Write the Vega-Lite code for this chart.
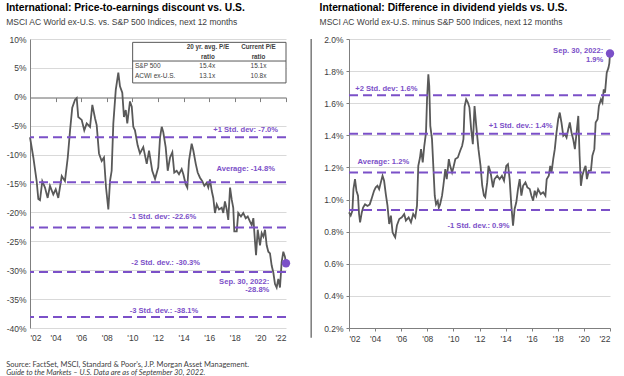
{
  "$schema": "https://vega.github.io/schema/vega-lite/v6.json",
  "background": "white",
  "padding": {"left": 6, "right": 2, "top": 3, "bottom": 1},
  "config": {"view": {"stroke": null}, "font": "Liberation Sans", "axis": {"labelOverlap": false, "tickCount": 30}},
  "title": {
    "text": "Source: FactSet, MSCI, Standard & Poor's, J.P. Morgan Asset Management.",
    "subtitle": "Guide to the Markets – U.S. Data are as of September 30, 2022.",
    "orient": "bottom", "anchor": "start", "frame": "bounds",
    "font": "Lato", "fontSize": 7.5, "fontWeight": "normal", "color": "#404040",
    "subtitleFont": "Lato", "subtitleFontSize": 7.5, "subtitleFontStyle": "italic", "subtitleColor": "#404040",
    "subtitlePadding": 1, "offset": 18
  },
  "datasets": {
    "pe": [
      {"year": 2002.00, "pe": -7.0}, {"year": 2002.26, "pe": -10.5}, {"year": 2002.52, "pe": -14.6}, {"year": 2002.65, "pe": -17.7},
      {"year": 2002.78, "pe": -17.9}, {"year": 2002.96, "pe": -14.6}, {"year": 2003.17, "pe": -15.7}, {"year": 2003.38, "pe": -17.5},
      {"year": 2003.56, "pe": -15.4}, {"year": 2003.82, "pe": -16.9}, {"year": 2004.01, "pe": -16.0}, {"year": 2004.21, "pe": -17.5},
      {"year": 2004.48, "pe": -13.7}, {"year": 2004.73, "pe": -14.6}, {"year": 2004.95, "pe": -10.5}, {"year": 2005.13, "pe": -5.8},
      {"year": 2005.30, "pe": -1.9}, {"year": 2005.52, "pe": -0.5}, {"year": 2005.65, "pe": -0.2}, {"year": 2005.77, "pe": -3.5},
      {"year": 2006.04, "pe": -4.0}, {"year": 2006.24, "pe": -5.8}, {"year": 2006.43, "pe": -4.6}, {"year": 2006.69, "pe": -5.2},
      {"year": 2006.87, "pe": -1.4}, {"year": 2007.08, "pe": -3.7}, {"year": 2007.21, "pe": -4.9}, {"year": 2007.39, "pe": -9.8},
      {"year": 2007.60, "pe": -11.1}, {"year": 2007.78, "pe": -10.5}, {"year": 2007.94, "pe": -15.7}, {"year": 2008.12, "pe": -19.5},
      {"year": 2008.25, "pe": -14.6}, {"year": 2008.38, "pe": -12.8}, {"year": 2008.51, "pe": -4.6}, {"year": 2008.70, "pe": 1.2},
      {"year": 2008.90, "pe": 4.2}, {"year": 2009.03, "pe": 1.8}, {"year": 2009.21, "pe": 0.7}, {"year": 2009.34, "pe": -3.5},
      {"year": 2009.48, "pe": -2.3}, {"year": 2009.60, "pe": -4.6}, {"year": 2009.81, "pe": -0.8}, {"year": 2009.95, "pe": -1.7},
      {"year": 2010.07, "pe": -5.2}, {"year": 2010.20, "pe": -5.8}, {"year": 2010.41, "pe": -8.4}, {"year": 2010.59, "pe": -9.8},
      {"year": 2010.85, "pe": -8.7}, {"year": 2011.12, "pe": -11.6}, {"year": 2011.30, "pe": -9.3}, {"year": 2011.55, "pe": -12.8},
      {"year": 2011.77, "pe": -14.2}, {"year": 2012.02, "pe": -12.2}, {"year": 2012.16, "pe": -7.0}, {"year": 2012.29, "pe": -5.2},
      {"year": 2012.41, "pe": -6.1}, {"year": 2012.60, "pe": -8.7}, {"year": 2012.76, "pe": -12.8}, {"year": 2012.94, "pe": -10.5},
      {"year": 2013.12, "pe": -9.6}, {"year": 2013.27, "pe": -13.1}, {"year": 2013.46, "pe": -12.8}, {"year": 2013.64, "pe": -13.4},
      {"year": 2013.85, "pe": -12.5}, {"year": 2013.98, "pe": -13.4}, {"year": 2014.16, "pe": -15.1}, {"year": 2014.29, "pe": -15.7},
      {"year": 2014.42, "pe": -11.1}, {"year": 2014.63, "pe": -8.1}, {"year": 2014.76, "pe": -9.3}, {"year": 2014.95, "pe": -11.6},
      {"year": 2015.10, "pe": -13.1}, {"year": 2015.28, "pe": -14.0}, {"year": 2015.46, "pe": -14.6}, {"year": 2015.62, "pe": -15.4},
      {"year": 2015.80, "pe": -14.9}, {"year": 2015.93, "pe": -15.7}, {"year": 2016.06, "pe": -14.3}, {"year": 2016.20, "pe": -16.3},
      {"year": 2016.32, "pe": -17.5}, {"year": 2016.45, "pe": -20.1}, {"year": 2016.59, "pe": -18.6}, {"year": 2016.77, "pe": -19.5},
      {"year": 2016.98, "pe": -19.2}, {"year": 2017.10, "pe": -20.1}, {"year": 2017.23, "pe": -18.1}, {"year": 2017.37, "pe": -19.5},
      {"year": 2017.49, "pe": -21.3}, {"year": 2017.63, "pe": -15.7}, {"year": 2017.76, "pe": -17.8}, {"year": 2017.88, "pe": -19.2},
      {"year": 2017.96, "pe": -23.3}, {"year": 2018.15, "pe": -23.3}, {"year": 2018.27, "pe": -20.1}, {"year": 2018.48, "pe": -20.7},
      {"year": 2018.66, "pe": -20.1}, {"year": 2018.85, "pe": -21.0}, {"year": 2019.01, "pe": -20.7}, {"year": 2019.19, "pe": -21.6},
      {"year": 2019.32, "pe": -22.2}, {"year": 2019.45, "pe": -21.0}, {"year": 2019.58, "pe": -25.1}, {"year": 2019.66, "pe": -27.4},
      {"year": 2019.79, "pe": -23.0}, {"year": 2019.97, "pe": -25.7}, {"year": 2020.10, "pe": -23.6}, {"year": 2020.23, "pe": -24.2},
      {"year": 2020.36, "pe": -23.0}, {"year": 2020.49, "pe": -25.7}, {"year": 2020.62, "pe": -26.8}, {"year": 2020.75, "pe": -27.1},
      {"year": 2020.88, "pe": -29.2}, {"year": 2021.01, "pe": -30.4}, {"year": 2021.14, "pe": -32.4}, {"year": 2021.27, "pe": -33.0},
      {"year": 2021.40, "pe": -31.5}, {"year": 2021.53, "pe": -33.0}, {"year": 2021.66, "pe": -28.6}, {"year": 2021.79, "pe": -26.8},
      {"year": 2021.92, "pe": -27.7}, {"year": 2022.00, "pe": -28.8}
    ],
    "dy": [
      {"year": 2002.00, "dy": 0.92}, {"year": 2002.13, "dy": 0.90}, {"year": 2002.26, "dy": 0.93}, {"year": 2002.34, "dy": 1.065},
      {"year": 2002.46, "dy": 1.127}, {"year": 2002.57, "dy": 1.055}, {"year": 2002.69, "dy": 1.024}, {"year": 2002.77, "dy": 0.91},
      {"year": 2002.85, "dy": 0.858}, {"year": 2002.98, "dy": 0.92}, {"year": 2003.08, "dy": 0.95}, {"year": 2003.23, "dy": 0.97},
      {"year": 2003.42, "dy": 0.96}, {"year": 2003.59, "dy": 0.97}, {"year": 2003.75, "dy": 1.01}, {"year": 2003.92, "dy": 1.055},
      {"year": 2004.05, "dy": 1.076}, {"year": 2004.18, "dy": 1.086}, {"year": 2004.31, "dy": 1.065}, {"year": 2004.44, "dy": 1.107},
      {"year": 2004.57, "dy": 1.148}, {"year": 2004.69, "dy": 1.117}, {"year": 2004.82, "dy": 1.034}, {"year": 2004.95, "dy": 0.962},
      {"year": 2005.08, "dy": 0.848}, {"year": 2005.21, "dy": 0.90}, {"year": 2005.34, "dy": 0.796}, {"year": 2005.46, "dy": 0.776},
      {"year": 2005.54, "dy": 0.765}, {"year": 2005.67, "dy": 0.838}, {"year": 2005.85, "dy": 0.879}, {"year": 2006.05, "dy": 0.889},
      {"year": 2006.23, "dy": 0.91}, {"year": 2006.36, "dy": 0.869}, {"year": 2006.57, "dy": 0.889}, {"year": 2006.75, "dy": 0.858},
      {"year": 2006.92, "dy": 0.91}, {"year": 2007.08, "dy": 0.889}, {"year": 2007.21, "dy": 0.962}, {"year": 2007.31, "dy": 1.21},
      {"year": 2007.44, "dy": 1.262}, {"year": 2007.52, "dy": 1.314}, {"year": 2007.65, "dy": 1.231}, {"year": 2007.77, "dy": 1.335},
      {"year": 2007.90, "dy": 1.417}, {"year": 2007.98, "dy": 1.624}, {"year": 2008.08, "dy": 1.78}, {"year": 2008.15, "dy": 1.707},
      {"year": 2008.23, "dy": 1.459}, {"year": 2008.36, "dy": 1.376}, {"year": 2008.46, "dy": 1.21}, {"year": 2008.57, "dy": 1.024},
      {"year": 2008.67, "dy": 0.97}, {"year": 2008.80, "dy": 0.99}, {"year": 2008.88, "dy": 0.95}, {"year": 2008.98, "dy": 0.97},
      {"year": 2009.13, "dy": 1.024}, {"year": 2009.23, "dy": 1.086}, {"year": 2009.38, "dy": 1.19}, {"year": 2009.49, "dy": 1.127},
      {"year": 2009.65, "dy": 1.252}, {"year": 2009.75, "dy": 1.21}, {"year": 2009.90, "dy": 1.169}, {"year": 2010.00, "dy": 1.2},
      {"year": 2010.15, "dy": 1.252}, {"year": 2010.34, "dy": 1.262}, {"year": 2010.52, "dy": 1.304}, {"year": 2010.67, "dy": 1.335},
      {"year": 2010.77, "dy": 1.376}, {"year": 2010.86, "dy": 1.58}, {"year": 2010.98, "dy": 1.624}, {"year": 2011.11, "dy": 1.604},
      {"year": 2011.23, "dy": 1.573}, {"year": 2011.36, "dy": 1.438}, {"year": 2011.49, "dy": 1.345}, {"year": 2011.62, "dy": 1.583},
      {"year": 2011.75, "dy": 1.459}, {"year": 2011.92, "dy": 1.314}, {"year": 2012.08, "dy": 1.21}, {"year": 2012.21, "dy": 1.086},
      {"year": 2012.34, "dy": 1.024}, {"year": 2012.44, "dy": 1.014}, {"year": 2012.59, "dy": 1.107}, {"year": 2012.69, "dy": 1.21},
      {"year": 2012.85, "dy": 1.169}, {"year": 2013.03, "dy": 1.076}, {"year": 2013.15, "dy": 1.127}, {"year": 2013.36, "dy": 1.148},
      {"year": 2013.54, "dy": 1.127}, {"year": 2013.72, "dy": 1.148}, {"year": 2013.88, "dy": 1.117}, {"year": 2014.05, "dy": 1.21},
      {"year": 2014.18, "dy": 1.22}, {"year": 2014.31, "dy": 1.127}, {"year": 2014.44, "dy": 0.962}, {"year": 2014.57, "dy": 0.838},
      {"year": 2014.69, "dy": 0.941}, {"year": 2014.82, "dy": 0.983}, {"year": 2014.95, "dy": 1.065}, {"year": 2015.08, "dy": 1.127},
      {"year": 2015.21, "dy": 1.024}, {"year": 2015.34, "dy": 1.086}, {"year": 2015.52, "dy": 1.107}, {"year": 2015.67, "dy": 1.076},
      {"year": 2015.85, "dy": 1.065}, {"year": 2015.98, "dy": 1.024}, {"year": 2016.11, "dy": 0.993}, {"year": 2016.23, "dy": 1.055},
      {"year": 2016.36, "dy": 1.024}, {"year": 2016.49, "dy": 1.065}, {"year": 2016.69, "dy": 1.034}, {"year": 2016.88, "dy": 1.045},
      {"year": 2017.05, "dy": 1.024}, {"year": 2017.15, "dy": 1.127}, {"year": 2017.31, "dy": 1.148}, {"year": 2017.42, "dy": 1.21},
      {"year": 2017.52, "dy": 1.169}, {"year": 2017.65, "dy": 1.252}, {"year": 2017.77, "dy": 1.314}, {"year": 2017.90, "dy": 1.417},
      {"year": 2018.03, "dy": 1.5}, {"year": 2018.15, "dy": 1.542}, {"year": 2018.28, "dy": 1.48}, {"year": 2018.42, "dy": 1.397},
      {"year": 2018.54, "dy": 1.407}, {"year": 2018.67, "dy": 1.386}, {"year": 2018.80, "dy": 1.438}, {"year": 2018.92, "dy": 1.48},
      {"year": 2019.05, "dy": 1.417}, {"year": 2019.18, "dy": 1.376}, {"year": 2019.31, "dy": 1.314}, {"year": 2019.44, "dy": 1.417},
      {"year": 2019.57, "dy": 1.521}, {"year": 2019.67, "dy": 1.273}, {"year": 2019.77, "dy": 1.086}, {"year": 2019.88, "dy": 1.148},
      {"year": 2020.03, "dy": 1.19}, {"year": 2020.13, "dy": 1.21}, {"year": 2020.23, "dy": 1.127}, {"year": 2020.38, "dy": 1.18},
      {"year": 2020.54, "dy": 1.18}, {"year": 2020.65, "dy": 1.273}, {"year": 2020.80, "dy": 1.314}, {"year": 2020.90, "dy": 1.48},
      {"year": 2021.05, "dy": 1.5}, {"year": 2021.15, "dy": 1.583}, {"year": 2021.31, "dy": 1.624}, {"year": 2021.42, "dy": 1.604},
      {"year": 2021.52, "dy": 1.686}, {"year": 2021.62, "dy": 1.666}, {"year": 2021.75, "dy": 1.79}, {"year": 2021.88, "dy": 1.82},
      {"year": 2021.95, "dy": 1.85}, {"year": 2022.00, "dy": 1.91}
    ]
  },
  "spacing": 19,
  "hconcat": [
    {
      "width": 256,
      "height": 289,
      "title": {
        "text": "International: Price-to-earnings discount vs. U.S.",
        "subtitle": "MSCI AC World ex-U.S. vs. S&P 500 Indices, next 12 months",
        "anchor": "start", "frame": "bounds",
        "font": "Liberation Sans", "fontSize": 10.3, "fontWeight": "bold", "color": "#000000",
        "subtitleFont": "Liberation Sans", "subtitleFontSize": 8.5, "subtitleColor": "#404040",
        "subtitlePadding": 4, "offset": 9
      },
      "resolve": {"scale": {"x": "independent"}, "axis": {"x": "independent"}},
      "layer": [
        {
          "layer": [
            {
              "data": {"name": "pe"},
              "mark": {"type": "line", "color": "#595959", "strokeWidth": 1.8},
              "encoding": {
                "x": {"field": "year", "type": "quantitative",
                  "scale": {"domain": [2002, 2022], "nice": false, "zero": false},
                  "axis": {"orient": "bottom", "values": [2002, 2004, 2006, 2008, 2010, 2012, 2014, 2016, 2018, 2020, 2022], "tickCount": 30,
                    "labelExpr": "\"'\" + substring(toString(datum.value), 2, 4)",
                    "domain": false, "ticks": false, "grid": false, "labelPadding": 5, "labelOverlap": false,
                    "labelFontSize": 8.5, "labelColor": "#404040", "title": null}},
                "y": {"field": "pe", "type": "quantitative",
                  "scale": {"domain": [-40, 10], "nice": false, "zero": false},
                  "axis": {"values": [-40, -35, -30, -25, -20, -15, -10, -5, 0, 5, 10], "tickCount": 30,
                    "labelExpr": "datum.value + '%'", "grid": true, "gridColor": "#d9d9d9", "labelOverlap": false,
                    "domain": true, "domainColor": "#7f7f7f", "ticks": false, "labelPadding": 4,
                    "labelFontSize": 8.5, "labelColor": "#404040", "title": null}}
              }
            },
            {
              "data": {"values": [{"v": -7.0}, {"v": -14.8}, {"v": -22.6}, {"v": -30.3}, {"v": -38.1}]},
              "mark": {"type": "rule", "color": "#7b50c8", "strokeWidth": 2, "strokeDash": [9, 5]},
              "encoding": {"y": {"field": "v", "type": "quantitative"}}
            },
            {
              "data": {"values": [
                {"year": 2018.85, "v": -5.8, "label": "+1 Std. dev: -7.0%"},
                {"year": 2018.85, "v": -12.5, "label": "Average: -14.8%"},
                {"year": 2012.37, "v": -20.8, "label": "-1 Std. dev: -22.6%"},
                {"year": 2012.6, "v": -28.7, "label": "-2 Std. dev.: -30.3%"},
                {"year": 2012.47, "v": -37.0, "label": "-3 Std. dev.: -38.1%"}
              ]},
              "mark": {"type": "text", "color": "#7b50c8", "fontSize": 7.6, "fontWeight": "bold", "align": "center", "baseline": "middle"},
              "encoding": {
                "x": {"field": "year", "type": "quantitative"},
                "y": {"field": "v", "type": "quantitative"},
                "text": {"field": "label"}
              }
            },
            {
              "data": {"values": [
                {"year": 2020.7, "v": -32.1, "label": "Sep. 30, 2022:"},
                {"year": 2020.7, "v": -33.4, "label": "-28.8%"}
              ]},
              "mark": {"type": "text", "color": "#7b50c8", "fontSize": 7.6, "fontWeight": "bold", "align": "right", "baseline": "middle"},
              "encoding": {
                "x": {"field": "year", "type": "quantitative"},
                "y": {"field": "v", "type": "quantitative"},
                "text": {"field": "label"}
              }
            },
            {
              "data": {"values": [{"year": 2022, "pe": -28.8}]},
              "mark": {"type": "point", "filled": true, "color": "#7b50c8", "size": 70, "opacity": 1},
              "encoding": {
                "x": {"field": "year", "type": "quantitative"},
                "y": {"field": "pe", "type": "quantitative"}
              }
            },
            {
              "data": {"values": [{"x1": 2010.02, "x2": 2022, "y1": 9.42, "y2": 2.4}]},
              "mark": {"type": "rect", "fill": "white", "stroke": "#595959", "strokeWidth": 1},
              "encoding": {
                "x": {"field": "x1", "type": "quantitative"}, "x2": {"field": "x2"},
                "y": {"field": "y1", "type": "quantitative"}, "y2": {"field": "y2"}
              }
            },
            {
              "data": {"values": [{"x1": 2010.02, "x2": 2022, "y": 6.19}]},
              "mark": {"type": "rule", "color": "#595959", "strokeWidth": 1},
              "encoding": {
                "x": {"field": "x1", "type": "quantitative"}, "x2": {"field": "x2"},
                "y": {"field": "y", "type": "quantitative"}
              }
            },
            {
              "data": {"values": [
                {"year": 2015.9, "v": 8.54, "label": "20 yr. avg. P/E"},
                {"year": 2015.9, "v": 6.96, "label": "ratio"},
                {"year": 2019.85, "v": 8.54, "label": "Current P/E"},
                {"year": 2019.85, "v": 6.96, "label": "ratio"}
              ]},
              "mark": {"type": "text", "color": "#404040", "fontSize": 6.3, "fontWeight": "bold", "align": "center", "baseline": "middle"},
              "encoding": {
                "x": {"field": "year", "type": "quantitative"},
                "y": {"field": "v", "type": "quantitative"},
                "text": {"field": "label"}
              }
            },
            {
              "data": {"values": [
                {"year": 2015.85, "v": 5.32, "label": "15.4x"},
                {"year": 2019.85, "v": 5.32, "label": "15.1x"},
                {"year": 2015.85, "v": 3.56, "label": "13.1x"},
                {"year": 2019.85, "v": 3.56, "label": "10.8x"}
              ]},
              "mark": {"type": "text", "color": "#404040", "fontSize": 6.5, "align": "center", "baseline": "middle"},
              "encoding": {
                "x": {"field": "year", "type": "quantitative"},
                "y": {"field": "v", "type": "quantitative"},
                "text": {"field": "label"}
              }
            },
            {
              "data": {"values": [
                {"year": 2010.2, "v": 5.32, "label": "S&P 500"},
                {"year": 2010.2, "v": 3.56, "label": "ACWI ex-U.S."}
              ]},
              "mark": {"type": "text", "color": "#404040", "fontSize": 6.5, "align": "left", "baseline": "middle"},
              "encoding": {
                "x": {"field": "year", "type": "quantitative"},
                "y": {"field": "v", "type": "quantitative"},
                "text": {"field": "label"}
              }
            }
          ]
        },
        {
          "mark": {"type": "rule", "color": "#7f7f7f", "strokeWidth": 1},
          "encoding": {
            "x": {"datum": 2002, "type": "quantitative",
              "scale": {"domain": [2002, 2022], "nice": false, "zero": false},
              "axis": {"orient": "bottom", "offset": -230.4, "values": [2002, 2004, 2006, 2008, 2010, 2012, 2014, 2016, 2018, 2020, 2022], "tickCount": 30,
                "labels": false, "ticks": true, "tickSize": 4, "tickColor": "#7f7f7f", "domain": true, "domainColor": "#7f7f7f", "grid": false, "title": null}},
            "x2": {"datum": 2022},
            "y": {"datum": 0, "type": "quantitative"}
          }
        }
      ]
    },
    {
      "width": 261,
      "height": 289,
      "title": {
        "text": "International: Difference in dividend yields vs. U.S.",
        "subtitle": "MSCI AC World ex-U.S. minus S&P 500 Indices, next 12 months",
        "anchor": "start", "frame": "bounds", "dx": 9,
        "font": "Liberation Sans", "fontSize": 10.3, "fontWeight": "bold", "color": "#000000",
        "subtitleFont": "Liberation Sans", "subtitleFontSize": 8.5, "subtitleColor": "#404040",
        "subtitlePadding": 4, "offset": 9
      },
      "layer": [
        {
          "data": {"name": "dy"},
          "mark": {"type": "line", "color": "#595959", "strokeWidth": 1.8},
          "encoding": {
            "x": {"field": "year", "type": "quantitative",
              "scale": {"domain": [2002, 2022], "nice": false, "zero": false},
              "axis": {"orient": "bottom", "values": [2002, 2004, 2006, 2008, 2010, 2012, 2014, 2016, 2018, 2020, 2022], "tickCount": 30,
                "labelExpr": "\"'\" + substring(toString(datum.value), 2, 4)", "labelOverlap": false,
                "domain": true, "domainColor": "#7f7f7f", "ticks": true, "tickSize": 3, "tickColor": "#7f7f7f",
                "grid": false, "labelPadding": 3, "labelFontSize": 8.5, "labelColor": "#404040", "title": null}},
            "y": {"field": "dy", "type": "quantitative",
              "scale": {"domain": [0.2, 2.0], "nice": false, "zero": false},
              "axis": {"values": [0.2, 0.4, 0.6, 0.8, 1.0, 1.2, 1.4, 1.6, 1.8, 2.0], "tickCount": 30,
                "labelExpr": "format(datum.value, '.1f') + '%'", "grid": true, "gridColor": "#d9d9d9", "labelOverlap": false,
                "domain": true, "domainColor": "#7f7f7f", "ticks": true, "tickSize": 3, "tickColor": "#7f7f7f",
                "labelPadding": 3, "labelFontSize": 8.5, "labelColor": "#404040", "title": null}}
          }
        },
        {
          "data": {"values": [{"v": 1.649}, {"v": 1.41}, {"v": 1.169}, {"v": 0.935}]},
          "mark": {"type": "rule", "color": "#7b50c8", "strokeWidth": 2, "strokeDash": [9, 5]},
          "encoding": {"y": {"field": "v", "type": "quantitative"}}
        },
        {
          "data": {"values": [
            {"year": 2004.86, "v": 1.69, "label": "+2 Std. dev: 1.6%"},
            {"year": 2015.15, "v": 1.459, "label": "+1 Std. dev.: 1.4%"},
            {"year": 2004.63, "v": 1.235, "label": "Average: 1.2%"},
            {"year": 2011.92, "v": 0.838, "label": "-1 Std. dev.: 0.9%"}
          ]},
          "mark": {"type": "text", "color": "#7b50c8", "fontSize": 7.6, "fontWeight": "bold", "align": "center", "baseline": "middle"},
          "encoding": {
            "x": {"field": "year", "type": "quantitative"},
            "y": {"field": "v", "type": "quantitative"},
            "text": {"field": "label"}
          }
        },
        {
          "data": {"values": [
            {"year": 2021.49, "v": 1.925, "label": "Sep. 30, 2022:"},
            {"year": 2021.49, "v": 1.869, "label": "1.9%"}
          ]},
          "mark": {"type": "text", "color": "#7b50c8", "fontSize": 7.6, "fontWeight": "bold", "align": "right", "baseline": "middle"},
          "encoding": {
            "x": {"field": "year", "type": "quantitative"},
            "y": {"field": "v", "type": "quantitative"},
            "text": {"field": "label"}
          }
        },
        {
          "data": {"values": [{"year": 2022, "dy": 1.91}]},
          "mark": {"type": "point", "filled": true, "color": "#7b50c8", "size": 70, "opacity": 1},
          "encoding": {
            "x": {"field": "year", "type": "quantitative"},
            "y": {"field": "dy", "type": "quantitative"}
          }
        },
        {
          "data": {"values": [{"year": 1999.1, "top": 2.0, "bottom": 0.14}]},
          "mark": {"type": "rule", "color": "#595959", "strokeWidth": 1.2},
          "encoding": {
            "x": {"field": "year", "type": "quantitative"},
            "y": {"field": "top", "type": "quantitative"},
            "y2": {"field": "bottom"}
          }
        }
      ]
    }
  ]
}
